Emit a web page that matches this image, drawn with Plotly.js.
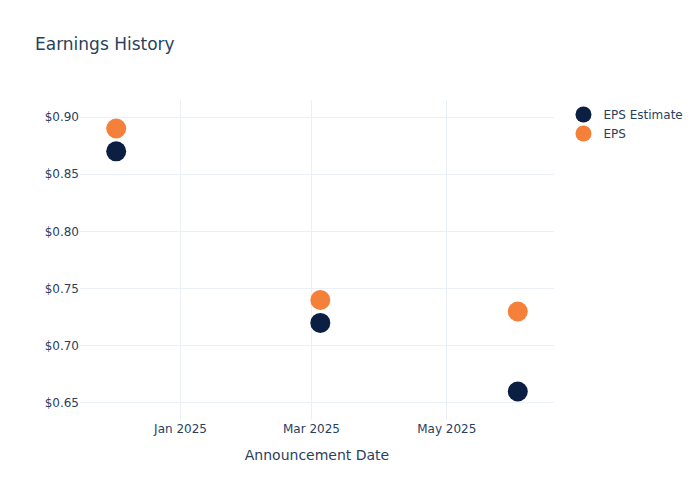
<!DOCTYPE html>
<html>
<head>
<meta charset="utf-8">
<script src="https://cdn.plot.ly/plotly-3.0.1.min.js"></script>
<style>html,body{margin:0;padding:0;background:#fff;}#chart{width:700px;height:500px;}</style>
</head>
<body>
<div id="chart"></div>
<script>
const dates = ["2024-12-03", "2025-03-05", "2025-06-02"];
const epsEstimate = [0.87, 0.72, 0.66];
const eps = [0.89, 0.74, 0.73];

const traces = [
  {
    x: dates, y: epsEstimate, name: "EPS Estimate", type: "scatter", mode: "markers",
    marker: {color: "#0b1f42", size: 20}
  },
  {
    x: dates, y: eps, name: "EPS", type: "scatter", mode: "markers",
    marker: {color: "#f5803a", size: 20}
  }
];

const layout = {
  width: 700, height: 500,
  title: {text: "Earnings History", x: 0.05, font: {size: 17, color: "#2a3f5f"}},
  font: {family: "'DejaVu Sans', verdana, arial, sans-serif", color: "#2a3f5f", size: 12},
  paper_bgcolor: "#fff", plot_bgcolor: "#fff",
  xaxis: {
    title: {text: "Announcement Date", font: {size: 14}, standoff: 15},
    automargin: true,
    type: "date", gridcolor: "#EBF0F8", zeroline: false, showline: false,
    tickformat: "%b %Y", dtick: "M2", tick0: "2025-01-01"
  },
  yaxis: {
    tickprefix: "$", tickformat: ".2f", gridcolor: "#EBF0F8", zeroline: false, showline: false,
    dtick: 0.05
  },
  legend: {font: {size: 12}},
  margin: {t: 100, b: 80, l: 80}
};

Plotly.newPlot("chart", traces, layout, {displayModeBar: false});
</script>
</body>
</html>
